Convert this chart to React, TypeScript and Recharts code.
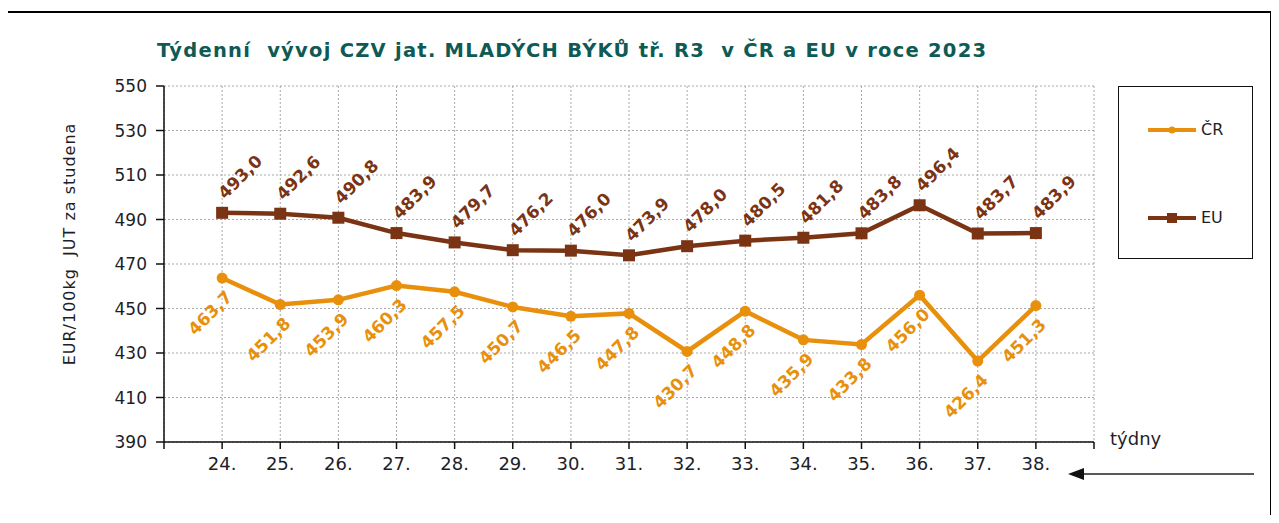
import React from "react";
import {
  LineChart,
  Line,
  XAxis,
  YAxis,
  CartesianGrid,
  Legend,
  LabelList,
} from "recharts";

// týdny 2023
const WEEKS = [24, 25, 26, 27, 28, 29, 30, 31, 32, 33, 34, 35, 36, 37, 38];

const CR_VALUES = [
  463.7, 451.8, 453.9, 460.3, 457.5, 450.7, 446.5, 447.8, 430.7, 448.8, 435.9,
  433.8, 456.0, 426.4, 451.3,
];

const EU_VALUES = [
  493.0, 492.6, 490.8, 483.9, 479.7, 476.2, 476.0, 473.9, 478.0, 480.5, 481.8,
  483.8, 496.4, 483.7, 483.9,
];

const Y_TICKS = [390, 410, 430, 450, 470, 490, 510, 530, 550];
const X_TICKS = [23, ...WEEKS, 39];

const CR_COLOR = "#E8900C";
const EU_COLOR = "#7A3414";
const TEXT_COLOR = "#1e1e28";
const FONT = "'DejaVu Sans', Verdana, sans-serif";

const data = WEEKS.map((week, i) => ({
  week,
  cr: CR_VALUES[i],
  eu: EU_VALUES[i],
}));

const fmt = (v: number) => v.toFixed(1).replace(".", ",");

const makeLabel =
  (color: string, dx: number, dy: number) => (props: any) => {
    const { x, y, value, index } = props;
    if (x == null || y == null) return null;
    const cx = Number(x) + dx;
    const cy = Number(y) + dy;
    return (
      <text
        key={`lbl-${index}`}
        x={cx}
        y={cy}
        transform={`rotate(-45 ${cx} ${cy})`}
        textAnchor="middle"
        dominantBaseline="central"
        fill={color}
        fontSize={17}
        fontWeight="bold"
        fontFamily={FONT}
      >
        {fmt(Number(value))}
      </text>
    );
  };

const SquareDot = (props: any) => {
  const { cx, cy, index } = props;
  if (cx == null || cy == null) return null;
  return (
    <rect
      key={`sq-${index}`}
      x={cx - 6}
      y={cy - 6}
      width={12}
      height={12}
      fill={EU_COLOR}
    />
  );
};

const LegendBox = () => (
  <div
    style={{
      width: 135,
      height: 173,
      border: "1.5px solid #111",
      boxSizing: "border-box",
      position: "relative",
      fontFamily: FONT,
      fontSize: 16,
      color: TEXT_COLOR,
    }}
  >
    <svg
      width={60}
      height={173}
      style={{ position: "absolute", left: 27, top: 0 }}
    >
      <line x1={2} x2={50} y1={43} y2={43} stroke={CR_COLOR} strokeWidth={4} />
      <circle cx={26} cy={43} r={3.5} fill={CR_COLOR} />
      <line x1={2} x2={50} y1={131} y2={131} stroke={EU_COLOR} strokeWidth={4} />
      <rect x={21} y={126} width={10} height={10} fill={EU_COLOR} />
    </svg>
    <span style={{ position: "absolute", left: 82, top: 33 }}>ČR</span>
    <span style={{ position: "absolute", left: 82, top: 121 }}>EU</span>
  </div>
);

export default function App() {
  return (
    <div
      style={{
        position: "relative",
        width: 1279,
        height: 523,
        margin: -8,
        overflow: "hidden",
        background: "#fff",
      }}
    >
      <LineChart
        width={1279}
        height={523}
        data={data}
        margin={{ top: 86, right: 185, bottom: 51, left: 104 }}
        style={{ position: "absolute", left: 0, top: 0 }}
      >
        <CartesianGrid stroke="#a8a8a8" strokeDasharray="2 2" />
        <XAxis
          dataKey="week"
          type="number"
          domain={[23, 39]}
          ticks={X_TICKS}
          interval={0}
          height={30}
          tickSize={7}
          tickMargin={8}
          tickFormatter={(v: number) => (v === 23 || v === 39 ? "" : `${v}.`)}
          axisLine={{ stroke: "#111", strokeWidth: 1.5 }}
          tickLine={{ stroke: "#111", strokeWidth: 1.5 }}
          tick={{ fill: TEXT_COLOR, fontSize: 18, fontFamily: FONT }}
          label={{
            content: (p: any) => {
              const vb = p.viewBox || {};
              return (
                <text
                  x={vb.x + vb.width + 16}
                  y={445}
                  fill={TEXT_COLOR}
                  fontSize={18}
                  fontFamily={FONT}
                >
                  týdny
                </text>
              );
            },
          }}
        />
        <YAxis
          width={60}
          domain={[390, 550]}
          ticks={Y_TICKS}
          interval={0}
          tickSize={8}
          tickMargin={9}
          axisLine={{ stroke: "#111", strokeWidth: 1.5 }}
          tickLine={{ stroke: "#111", strokeWidth: 1.5 }}
          tick={{ fill: TEXT_COLOR, fontSize: 17, fontFamily: FONT }}
          label={{
            content: () => (
              <text
                x={69}
                y={244}
                transform="rotate(-90 69 244)"
                textAnchor="middle"
                dominantBaseline="central"
                fill={TEXT_COLOR}
                fontSize={16}
                letterSpacing={1}
                fontFamily={FONT}
                style={{ whiteSpace: "pre" }}
              >
                {"EUR/100kg  JUT za studena"}
              </text>
            ),
          }}
        />
        <Legend
          layout="horizontal"
          verticalAlign="middle"
          content={() => <LegendBox />}
          wrapperStyle={{
            position: "absolute",
            left: 1118,
            top: 86,
            width: 135,
            height: 173,
          }}
        />
        <Line
          name="EU"
          dataKey="eu"
          stroke={EU_COLOR}
          strokeWidth={4.5}
          dot={SquareDot}
          activeDot={false}
          isAnimationActive={false}
        >
          <LabelList dataKey="eu" content={makeLabel(EU_COLOR, 18, -36)} />
        </Line>
        <Line
          name="ČR"
          dataKey="cr"
          stroke={CR_COLOR}
          strokeWidth={4.5}
          dot={{ r: 5.5, fill: CR_COLOR, stroke: CR_COLOR, strokeWidth: 0 }}
          activeDot={false}
          isAnimationActive={false}
        >
          <LabelList dataKey="cr" content={makeLabel(CR_COLOR, -12, 35)} />
        </Line>
      </LineChart>

      <svg
        width={1279}
        height={523}
        style={{ position: "absolute", left: 0, top: 0, pointerEvents: "none" }}
      >
        {/* outer frame, bottom edge is outside the picture */}
        <path d="M5,530 V12 H1271 V530" fill="none" stroke="#000" strokeWidth={2} />
        <text
          x={157}
          y={57}
          fill="#0E5A55"
          fontSize={19.5}
          fontWeight="bold"
          fontFamily={FONT}
          letterSpacing={1.25}
          style={{ whiteSpace: "pre" }}
        >
          {"Týdenní  vývoj CZV jat. MLADÝCH BÝKŮ tř. R3  v ČR a EU v roce 2023"}
        </text>
        <line x1={1082} x2={1254} y1={474} y2={474} stroke="#222" strokeWidth={1.5} />
        <polygon points="1068,474 1084,468 1084,480" fill="#111" />
      </svg>
    </div>
  );
}
